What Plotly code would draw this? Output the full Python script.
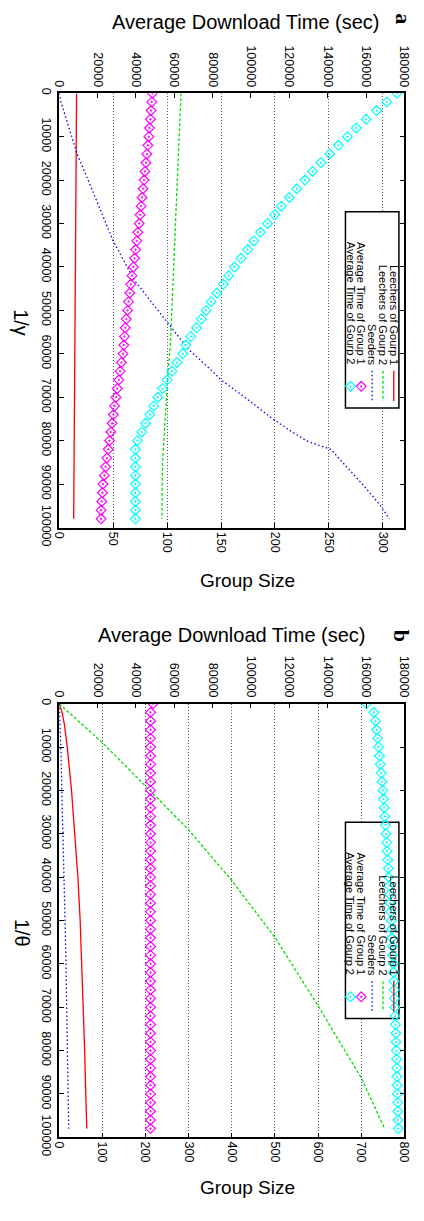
import plotly.graph_objects as go

W, H = 424, 1221

# ---------------- data: panel a (x: 1/gamma) ----------------
inv_marks = [0, 2000, 4000, 6000, 8000, 10000, 12000, 14000, 16000, 18000,
             20000, 22000, 24000, 26000, 28000, 30000, 32000, 34000, 36000, 38000,
             40000, 42000, 44000, 46000, 48000, 50000, 52000, 54000, 56000, 58000,
             60000, 62000, 64000, 66000, 68000, 70000, 72000, 74000, 76000, 78000,
             80000, 82000, 84000, 86000, 88000, 90000, 92000, 94000, 96000, 98000]

leech1_a_inv = [0, 20000, 40000, 60000, 80000, 98000]
leech1_a = [16.1, 15.6, 15.0, 14.5, 14.0, 13.4]

leech2_a_inv = [0, 10000, 20000, 30000, 40000, 50000, 58000, 62000, 66000, 70000,
                76000, 80000, 84000, 90000, 98000]
leech2_a = [112.9, 111.2, 109.6, 108.0, 106.4, 104.8, 103.0, 101.5, 100.4, 99.4,
            97.6, 96.8, 96.0, 95.5, 95.2]

seed_a_inv = [0, 2000, 10000, 14000, 20000, 30000, 34000, 40000, 43000, 50000,
              53000, 59000, 64000, 66000, 70000, 75000, 78000, 80000, 81000, 82000,
              84000, 90000, 95000, 98000]
seed_a = [0, 1.6, 11.6, 16.6, 26.8, 43.5, 50, 63, 69.5, 91.5,
          101, 120, 142, 150, 172, 198, 216, 229, 240, 252,
          259, 281, 298, 306]

time1_a = [48550, 48250, 47900, 47550, 47040, 46740, 46230, 45730, 45220, 44720,
           44220, 43710, 43210, 42700, 42200, 41700, 40990, 40490, 39830, 39330,
           38670, 37960, 37310, 36810, 36150, 35650, 34940, 34440, 34030, 33680,
           33280, 32420, 31760, 31110, 30250, 29600, 28890, 28240, 27580, 26870,
           26220, 25560, 24850, 24200, 23550, 22840, 22540, 22180, 21830, 21830]

time2_a = [176100, 170800, 165500, 160000, 154900, 150300, 145600, 141000, 136500, 132100,
           128100, 123900, 120000, 115800, 112400, 108600, 104900, 101500, 98200, 94800,
           91400, 88400, 85600, 82200, 79200, 76600, 74100, 71600, 68600, 66000,
           64400, 61400, 58800, 56300, 53900, 51400, 49300, 47200, 45000, 43000,
           40800, 39700, 39700, 39700, 39700, 39700, 39700, 39700, 39700, 39700]

# ---------------- data: panel b (x: 1/theta) ----------------
leech1_b_inv = [0, 1000, 2000, 4700, 10000, 20000, 30000, 40000, 50000, 60000,
                70000, 80000, 90000, 98000]
leech1_b = [0, 3.5, 6.5, 11.9, 18.6, 28.5, 36.6, 43.3, 48.5, 52.5,
            56, 59, 61.5, 64]

leech2_b_inv = [0, 9000, 19000, 29100, 40800, 53900, 69700, 86300, 98000]
leech2_b = [0, 100, 200, 300, 400, 500, 600, 700, 754]

seed_b_inv = [0, 5000, 10000, 20000, 30000, 40000, 50000, 60000, 70000, 80000, 90000, 98000]
seed_b = [0, 2.5, 3.8, 6.0, 9.0, 11.2, 13.5, 15.7, 17.2, 18.7, 20.2, 22.0]

time1_b = [48900] + [47600] * 49

time2_b = [160200, 164000, 164900, 165500, 166000, 166500, 167000, 167400, 167900, 168300,
           168800, 169100, 169400, 169800, 170100, 170400, 170800, 170900, 171300, 171600,
           171800, 172100, 172300, 172600, 172800, 173100, 173300, 173400, 173800, 173900,
           174100, 174300, 174500, 174600, 174800, 175000, 175100, 175300, 175500, 175600,
           175800, 175900, 176000, 176100, 176200, 176300, 176500, 176600, 176600, 176800]

legend_labels = ["Leechers of Gourp 1", "Leechers of Gourp 2", "Seeders",
                 "Average Time of Group 1", "Average Time of Gourp 2"]

# ---------------- styles ----------------
RED, GREEN, BLUE, MAG, CYAN = "#ff0000", "#00e000", "#0000ff", "#ff00ff", "#00ffff"
FONT = "Liberation Sans, Arial, sans-serif"
TICKF = dict(family=FONT, size=12.5, color="black")

line_styles = [dict(color=RED, width=1.3, dash="solid"),
               dict(color=GREEN, width=1.3, dash="3px,2px"),
               dict(color=BLUE, width=1.3, dash="1.5px,2.5px")]
marker_styles = [dict(symbol="diamond-open-dot", size=7.5, color=MAG, line=dict(color=MAG, width=1.2)),
                 dict(symbol="diamond-open-dot", size=7.5, color=CYAN, line=dict(color=CYAN, width=1.2))]


def fx(px):  # page pixel -> paper x
    return px / W


def fy(py):  # page pixel -> paper y
    return 1 - py / H


fig = go.Figure()

PL, PR = 54, 411
panels = [
    dict(top=90, bot=533, gmax=320, gdt=50, xg="x", xt="x2", y="y",
         lines=[(leech1_a_inv, leech1_a), (leech2_a_inv, leech2_a), (seed_a_inv, seed_a)],
         times=[time1_a, time2_a], title_x=247, title_y=17, letter="a", letter_x=410, letter_y=14,
         ylab="1/γ", ylab_y=324, gs_y=587),
    dict(top=712.7, bot=1155, gmax=800, gdt=100, xg="x3", xt="x4", y="y3",
         lines=[(leech1_b_inv, leech1_b), (leech2_b_inv, leech2_b), (seed_b_inv, seed_b)],
         times=[time1_b, time2_b], title_x=233, title_y=643, letter="b", letter_x=408, letter_y=643,
         ylab="1/θ", ylab_y=946, gs_y=1206),
]

annotations = []
shapes = []
for k, p in enumerate(panels):
    for (xs, ys), st in zip(p["lines"], line_styles):
        fig.add_trace(go.Scatter(x=ys, y=xs, mode="lines", line=st, xaxis=p["xg"], yaxis=p["y"]))
    for ts, ms in zip(p["times"], marker_styles):
        fig.add_trace(go.Scatter(x=ts, y=inv_marks, mode="markers", marker=ms,
                                 xaxis=p["xt"], yaxis=p["y"]))
    off = p["top"] - 90
    gx = lambda v, p=p: (v - PL) / (PR - PL) * p["gmax"]
    gy = lambda v, p=p: (v - p["top"]) / (p["bot"] - p["top"]) * 100000
    shapes.append(dict(type="rect", xref=p["xg"], yref=p["y"],
                       x0=gx(350), x1=gx(405.3), y0=gy(211 + off), y1=gy(411 + off),
                       line=dict(color="black", width=1.5), fillcolor="white", layer="between"))
    cols = [400, 388.8, 377.6, 366.3, 355.2]
    for i, (lab, cx) in enumerate(zip(legend_labels, cols)):
        annotations.append(dict(text=lab, x=fx(cx), y=fy(369 + off), xref="paper", yref="paper",
                                xanchor="center", yanchor="bottom", textangle=90, showarrow=False,
                                font=dict(family=FONT, size=11, color="black")))
        if i < 3:
            fig.add_trace(go.Scatter(x=[cx, cx], y=[373 + off, 404 + off], mode="lines",
                                     line=line_styles[i], xaxis="x5", yaxis="y5"))
        else:
            fig.add_trace(go.Scatter(x=[cx], y=[389 + off], mode="markers",
                                     marker=marker_styles[i - 3], xaxis="x5", yaxis="y5"))
    annotations += [
        dict(text="Average Download Time (sec)", x=fx(p["title_x"]), y=fy(p["title_y"]),
             xref="paper", yref="paper", xanchor="center", yanchor="middle", showarrow=False,
             font=dict(family=FONT, size=20, color="black")),
        dict(text="Group Size", x=fx(249), y=fy(p["gs_y"]),
             xref="paper", yref="paper", xanchor="center", yanchor="middle", showarrow=False,
             font=dict(family=FONT, size=19, color="black")),
        dict(text=p["ylab"], x=fx(15), y=fy(p["ylab_y"]), textangle=90,
             xref="paper", yref="paper", xanchor="center", yanchor="middle", showarrow=False,
             font=dict(family=FONT, size=20, color="black")),
        dict(text="<b>" + p["letter"] + "</b>", x=fx(p["letter_x"]), y=fy(p["letter_y"]), textangle=90,
             xref="paper", yref="paper", xanchor="center", yanchor="middle", showarrow=False,
             font=dict(family="Liberation Serif, serif", size=22, color="black")),
    ]

common = dict(showline=True, linecolor="black", linewidth=1.5, ticks="inside", ticklen=5,
              tickcolor="black", tickwidth=1, tickangle=90, tickfont=TICKF, zeroline=False,
              tickformat="d")


def gaxis(p):
    return dict(common, domain=[fx(PL), fx(PR)], range=[0, p["gmax"]], tick0=0, dtick=p["gdt"],
                side="bottom", showgrid=True, gridcolor="#555555", griddash="1px,2px", gridwidth=1)


def taxis(p, over, anchor):
    return dict(common, domain=[fx(PL), fx(PR)], range=[0, 180000], tick0=0, dtick=20000,
                side="top", overlaying=over, anchor=anchor, showgrid=False)


def yaxis(p):
    return dict(common, domain=[fy(p["bot"]), fy(p["top"])], range=[100000, 0],
                tick0=0, dtick=10000, mirror="ticks", showgrid=False)


pa, pb = panels
fig.update_layout(
    width=W, height=H, autosize=False, margin=dict(l=0, r=0, t=0, b=0),
    paper_bgcolor="white", plot_bgcolor="rgba(0,0,0,0)", showlegend=False,
    xaxis=dict(gaxis(pa), anchor="y"),
    xaxis2=taxis(pa, "x", "y"),
    yaxis=dict(yaxis(pa), anchor="x"),
    xaxis3=dict(gaxis(pb), anchor="y3"),
    xaxis4=taxis(pb, "x3", "y3"),
    yaxis3=dict(yaxis(pb), anchor="x3"),
    xaxis5=dict(domain=[0, 1], range=[0, W], visible=False, anchor="y5", fixedrange=True),
    yaxis5=dict(domain=[0, 1], range=[H, 0], visible=False, anchor="x5", fixedrange=True),
    annotations=annotations, shapes=shapes,
)

fig.write_html("out.html")
